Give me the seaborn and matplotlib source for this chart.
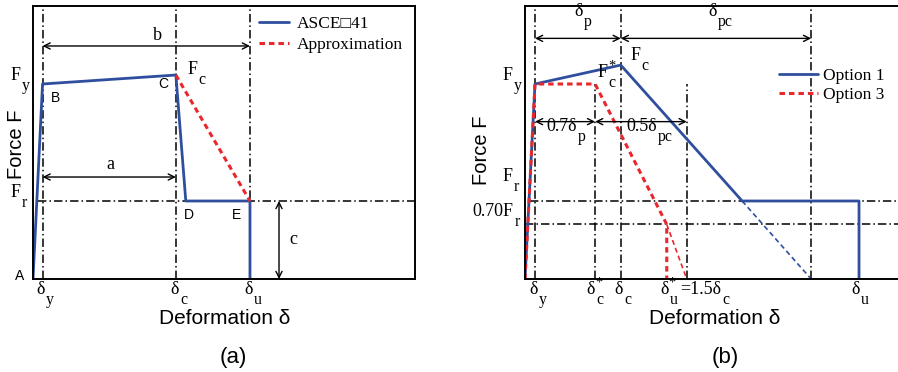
import matplotlib
matplotlib.use("Agg")
import matplotlib.pyplot as plt
import seaborn as sns
import pandas as pd
from matplotlib.font_manager import FontProperties

# ---- panel (a): ASCE 41 backbone vs approximation (x: 0..10, y: Fy = 1) ----
asce_x = [0, 0.25, 3.74, 4.0, 5.68, 5.68]
asce_y = [0, 1.0, 1.046, 0.4, 0.4, 0]
approx_x = [3.74, 5.68]
approx_y = [1.046, 0.4]
dy_a, dc_a, du_a = 0.25, 3.74, 5.68
Fy, Fr = 1.0, 0.4

# ---- panel (b): Option 1 vs Option 3 ----
opt1_x = [0, 0.265, 2.54, 5.76, 8.86, 8.86]
opt1_y = [0, 1.0, 1.097, 0.4, 0.4, 0]
opt1_ext_x = [5.76, 7.59]
opt1_ext_y = [0.4, 0]
opt3_x = [0, 0.265, 1.86, 3.76, 3.76]
opt3_y = [0, 1.0, 1.0, 0.28, 0]
opt3_ext_x = [3.76, 4.29]
opt3_ext_y = [0.28, 0]
dy_b, dcs_b, dc_b, dus_b, dpc_b, du_b = 0.265, 1.86, 2.54, 4.29, 7.59, 8.86
Fr07 = 0.28

BLUE = "#2f4f9e"
RED = "#e8282c"
SERIF = ["Liberation Serif", "DejaVu Sans"]
DASHDOT = (0, (5.5, 2, 1, 2))

sns.set_style("white")
plt.rcParams["font.family"] = ["Liberation Sans", "DejaVu Sans"]
plt.rcParams["text.color"] = "black"
plt.rcParams["axes.edgecolor"] = "black"
plt.rcParams["axes.linewidth"] = 1.4

W, H = 898, 372
fig = plt.figure(figsize=(W / 100, H / 100), dpi=100)
ax_a = fig.add_axes([33 / W, 93 / H, 382 / W, 273 / H])
ax_b = fig.add_axes([525 / W, 93 / H, 377 / W, 273 / H])


def curve(ax, xs, ys, color, lw, ls="-"):
    df = pd.DataFrame({"x": xs, "y": ys})
    sns.lineplot(data=df, x="x", y="y", sort=False, estimator=None, color=color,
                 lw=lw, linestyle=ls, legend=False, ax=ax)
    return ax.lines[-1]


def refline(ax, xs, ys):
    ax.plot(xs, ys, color="black", lw=1.1, linestyle=DASHDOT)


def arrow(ax, p1, p2):
    ax.annotate("", xy=p2, xytext=p1,
                arrowprops=dict(arrowstyle="<->", lw=1.0, color="black",
                                shrinkA=0, shrinkB=0, mutation_scale=11))


def lab(ax, x, y, main, sub=None, sup=None, size=13, ha="left"):
    t = ax.text(x, y, main, fontsize=size, family=SERIF, ha=ha, va="baseline",
                clip_on=False)
    if sub:
        ax.annotate(sub, xy=(1, 0), xycoords=t, xytext=(0.8, -4.5),
                    textcoords="offset points", fontsize=size * 0.88,
                    family=SERIF, va="baseline", ha="left")
    if sup:
        ax.annotate(sup, xy=(1, 1), xycoords=t, xytext=(0.3, 3),
                    textcoords="offset points", fontsize=size * 0.8,
                    family=SERIF, va="top", ha="left")
    return t


for ax in (ax_a, ax_b):
    ax.set_xlim(0, 10)
    ax.set_ylim(0, 1.4)
    ax.set_xticks([])
    ax.set_yticks([])
    ax.set_xlabel("")
    ax.set_ylabel("")
    for s in ax.spines.values():
        s.set_color("black")
        s.set_linewidth(1.4)

# ================= panel (a) =================
refline(ax_a, [dy_a, dy_a], [0, 1.4])
refline(ax_a, [dc_a, dc_a], [0, 1.4])
refline(ax_a, [du_a, du_a], [0, 1.4])
refline(ax_a, [0.12, 10], [Fr, Fr])

h_asce = curve(ax_a, asce_x, asce_y, BLUE, 2.0)
h_appr = curve(ax_a, approx_x, approx_y, RED, 2.2, (0, (1.8, 1.3)))

arrow(ax_a, (dy_a, 1.195), (du_a, 1.195))
arrow(ax_a, (dy_a, 0.523), (dc_a, 0.523))
arrow(ax_a, (6.44, Fr), (6.44, 0))
ax_a.text(3.25, 1.251, "b", fontsize=13, family=SERIF, ha="center", va="center")
ax_a.text(2.02, 0.585, "a", fontsize=13, family=SERIF, ha="center", va="center")
ax_a.text(6.81, 0.2, "c", fontsize=13, family=SERIF, ha="center", va="center")

for txt, x, y in [("A", -0.34, 0.015), ("B", 0.576, 0.928), ("C", 3.40, 1.0),
                  ("D", 4.08, 0.328), ("E", 5.34, 0.328)]:
    ax_a.text(x, y, txt, fontsize=10, ha="center", va="center", clip_on=False)

lab(ax_a, -0.576, 1.02, "F", sub="y")
lab(ax_a, -0.576, 0.42, "F", sub="r")
lab(ax_a, 4.05, 1.05, "F", sub="c")
lab(ax_a, dy_a - 0.05, -0.075, "δ", sub="y", ha="center")
lab(ax_a, dc_a - 0.03, -0.075, "δ", sub="c", ha="center")
lab(ax_a, du_a - 0.03, -0.075, "δ", sub="u", ha="center")

ax_a.legend(handles=[h_asce, h_appr], labels=["ASCE\u25a141", "Approximation"],
            loc="upper left", bbox_to_anchor=(0.592, 0.965), frameon=False,
            prop=FontProperties(family=SERIF, size=12.5), handlelength=1.7,
            handletextpad=0.45, borderpad=0, borderaxespad=0, labelspacing=0.28)

# ================= panel (b) =================
refline(ax_b, [dy_b, dy_b], [0, 1.4])
refline(ax_b, [dcs_b, dcs_b], [0, Fy])
refline(ax_b, [dc_b, dc_b], [0, 1.4])
refline(ax_b, [dus_b, dus_b], [0, Fy])
refline(ax_b, [dpc_b, dpc_b], [0, 1.4])
refline(ax_b, [0.13, 10], [Fr, Fr])
refline(ax_b, [0, 10], [Fr07, Fr07])

h_o1 = curve(ax_b, opt1_x, opt1_y, BLUE, 2.0)
curve(ax_b, opt1_ext_x, opt1_ext_y, BLUE, 1.2, (0, (3, 2)))
h_o3 = curve(ax_b, opt3_x, opt3_y, RED, 2.2, (0, (1.8, 1.3)))
curve(ax_b, opt3_ext_x, opt3_ext_y, RED, 1.2, (0, (3, 2)))

arrow(ax_b, (dy_b, 1.234), (dc_b, 1.234))
arrow(ax_b, (dc_b, 1.234), (dpc_b, 1.234))
arrow(ax_b, (dy_b, 0.807), (dcs_b, 0.807))
arrow(ax_b, (dcs_b, 0.807), (dus_b, 0.807))

lab(ax_b, 1.31, 1.35, "δ", sub="p")
lab(ax_b, 4.86, 1.35, "δ", sub="pc")
lab(ax_b, 0.557, 0.76, "0.7δ", sub="p")
lab(ax_b, 2.68, 0.76, "0.5δ", sub="pc")
lab(ax_b, 2.79, 1.125, "F", sub="c")
lab(ax_b, 1.92, 1.036, "F", sub="c", sup="*")

lab(ax_b, -0.59, 1.02, "F", sub="y")
lab(ax_b, -0.59, 0.505, "F", sub="r")
lab(ax_b, -1.39, 0.325, "0.70F", sub="r")

lab(ax_b, dy_b - 0.05, -0.075, "δ", sub="y", ha="center")
lab(ax_b, dcs_b - 0.12, -0.075, "δ", sub="c", sup="*", ha="center")
lab(ax_b, dc_b - 0.05, -0.075, "δ", sub="c", ha="center")
lab(ax_b, 3.58, -0.075, "δ", sub="u", sup="*")
lab(ax_b, 4.12, -0.075, "=1.5δ", sub="c")
lab(ax_b, du_b - 0.1, -0.075, "δ", sub="u", ha="center")

ax_b.legend(handles=[h_o1, h_o3], labels=["Option 1", "Option 3"],
            loc="upper left", bbox_to_anchor=(0.674, 0.775), frameon=False,
            prop=FontProperties(family=SERIF, size=12.5), handlelength=2.25,
            handletextpad=0.3, borderpad=0, borderaxespad=0, labelspacing=0.2)

# axis titles and panel tags
for cx in (225, 715):
    fig.text(cx / W, 1 - 318 / H, "Deformation δ", fontsize=15, ha="center", va="center")
fig.text(17 / W, 1 - 144 / H, "Force F", fontsize=14.5, rotation=90, ha="center", va="center")
fig.text(481 / W, 1 - 150 / H, "Force F", fontsize=14.5, rotation=90, ha="center", va="center")
fig.text(233 / W, 1 - 357 / H, "(a)", fontsize=16, ha="center", va="center")
fig.text(725 / W, 1 - 357 / H, "(b)", fontsize=16, ha="center", va="center")

fig.savefig("out.png", dpi=100)
